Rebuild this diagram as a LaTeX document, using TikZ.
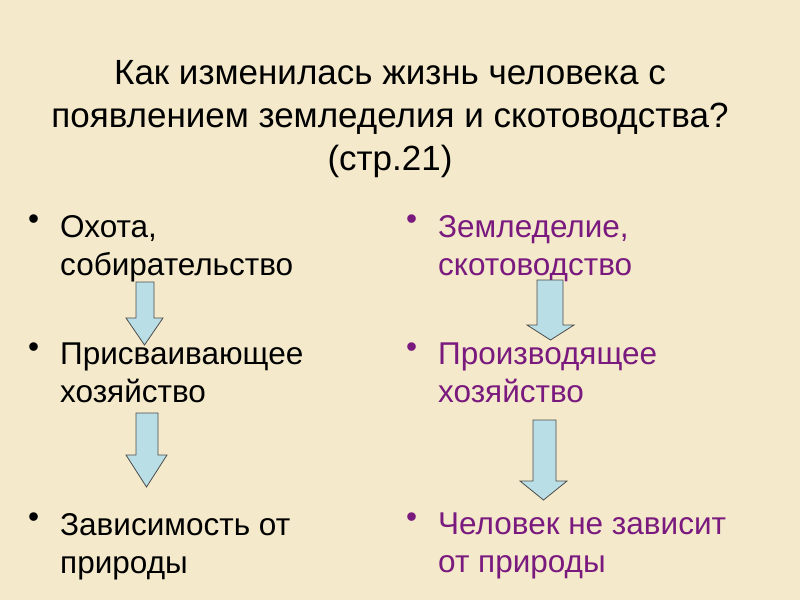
\documentclass[tikz,border=0pt]{standalone}
\usepackage{fontspec}
\setmainfont{Liberation Sans}
\definecolor{bg}{HTML}{F4EACB}
\definecolor{arr}{HTML}{B9DEE6}
\definecolor{purp}{HTML}{7A1A7E}
\begin{document}
\begin{tikzpicture}[x=1pt,y=-1pt,
  title/.style={font=\fontsize{35}{43}\selectfont,align=center,anchor=north,inner sep=0},
  item/.style={font=\fontsize{31.5}{38}\selectfont,align=left,anchor=north west,inner sep=0},
  bul/.style={font=\fontsize{31.5}{38}\selectfont,anchor=north west,inner sep=0},
  fat/.style={draw=black!70,fill=arr,line width=0.8pt}]
\fill[bg] (0,0) rectangle (800,600);
\useasboundingbox (0,0) rectangle (800,600);
\node[title] (t) at (390,60) {Как изменилась жизнь человека с\\появлением земледелия и скотоводства?\\(стр.21)};
\node[bul] (b1) at (28,215) {•};
\node[item] (l1) at (60,215) {Охота,\\собирательство};
\node[bul] (b2) at (28,343) {•};
\node[item] (l2) at (60,343) {Присваивающее\\хозяйство};
\node[bul] (b3) at (28,513) {•};
\node[item] (l3) at (60,513) {Зависимость от\\природы};
\node[bul,purp] (b4) at (406,215) {•};
\node[item,purp] (r1) at (438,215) {Земледелие,\\скотоводство};
\node[bul,purp] (b5) at (406,343) {•};
\node[item,purp] (r2) at (438,343) {Производящее\\хозяйство};
\node[bul,purp] (b6) at (406,513) {•};
\node[item,purp] (r3) at (438,513) {Человек не зависит\\от природы};
\draw[fat] (136,282) -- (154,282) -- (154,318) -- (163,318) -- (144.5,345) -- (126,318) -- (136,318) -- cycle;
\draw[fat] (136,413) -- (158,413) -- (158,455) -- (167,455) -- (146.5,487) -- (126,455) -- (136,455) -- cycle;
\draw[fat] (537,280) -- (563,280) -- (563,325) -- (574,325) -- (550.5,340) -- (527,325) -- (537,325) -- cycle;
\draw[fat] (533,420) -- (556,420) -- (556,481) -- (567,481) -- (543.5,500) -- (520,481) -- (533,481) -- cycle;
\end{tikzpicture}
\end{document}
